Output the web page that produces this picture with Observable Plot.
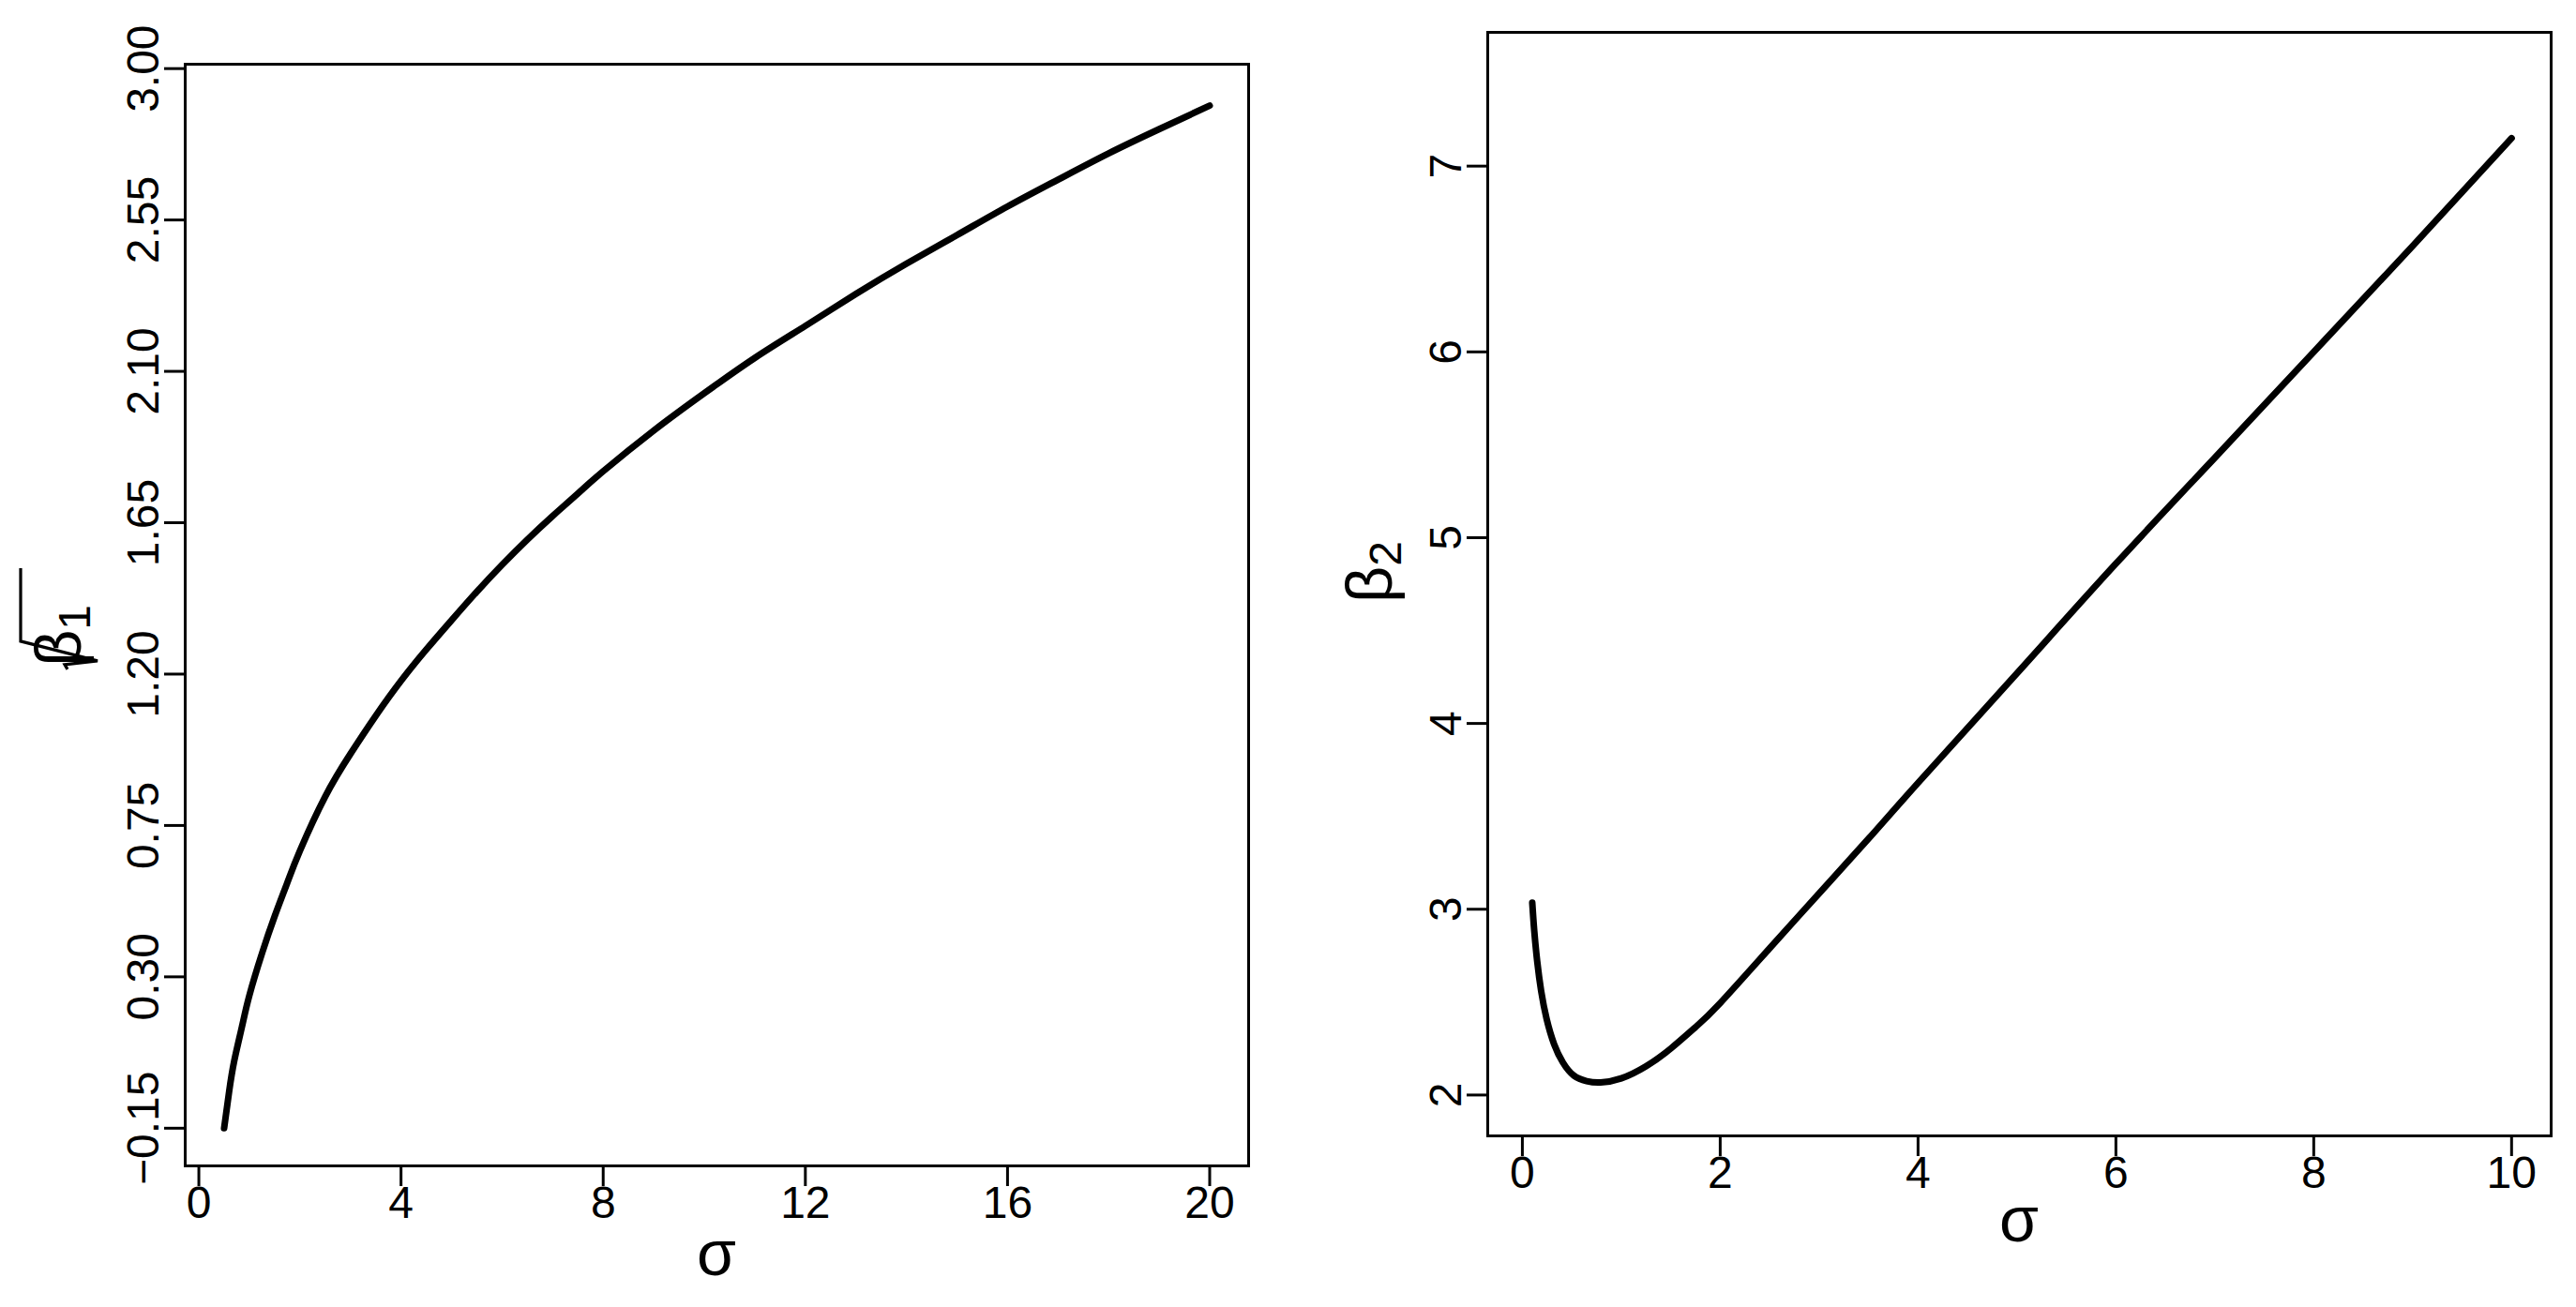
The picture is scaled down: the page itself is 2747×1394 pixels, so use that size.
<!DOCTYPE html>
<html>
<head>
<meta charset="utf-8">
<script src="https://cdn.jsdelivr.net/npm/d3@7"></script>
<script src="https://cdn.jsdelivr.net/npm/@observablehq/plot@0.6"></script>
<style>
  html, body { margin: 0; padding: 0; background: #fff; }
  #wrap { display: flex; flex-direction: row; width: 2747px; height: 1394px; background: #fff; }
  #wrap svg { display: block; }
</style>
</head>
<body>
<div id="wrap"></div>
<script>
// ---- Left panel: sqrt(beta1) vs sigma ----
const sigmaLeft = [0.5, 0.6, 0.7, 0.85, 1.0, 1.25, 1.5, 1.75, 2.0, 2.5, 3.0, 3.5, 4.0, 4.5, 5.0, 5.5, 6.0, 6.5, 7.0, 7.5, 8, 9, 10, 11, 12, 13, 14, 15, 16, 17, 18, 19, 20];
const sqrtBeta1 = [-0.15, -0.04, 0.05, 0.15, 0.245, 0.37, 0.48, 0.58, 0.675, 0.836, 0.963, 1.076, 1.18, 1.273, 1.36, 1.445, 1.525, 1.60, 1.67, 1.737, 1.803, 1.924, 2.035, 2.14, 2.235, 2.33, 2.42, 2.505, 2.59, 2.67, 2.748, 2.82, 2.89];
const xTicksLeft = [0, 4, 8, 12, 16, 20];
const yTicksLeft = [-0.15, 0.30, 0.75, 1.20, 1.65, 2.10, 2.55, 3.00];

// ---- Right panel: beta2 vs sigma ----
const sigmaRight = [0.1, 0.12, 0.15, 0.19, 0.245, 0.32, 0.41, 0.52, 0.65, 0.79, 1.0, 1.25, 1.5, 1.75, 2.0, 2.5, 3.0, 3.5, 4.0, 5, 6, 7, 8, 9, 10];
const beta2 = [3.035, 2.885, 2.72, 2.56, 2.41, 2.275, 2.175, 2.105, 2.075, 2.068, 2.09, 2.155, 2.25, 2.365, 2.495, 2.79, 3.085, 3.38, 3.68, 4.27, 4.86, 5.43, 6.00, 6.57, 7.15];
const xTicksRight = [0, 2, 4, 6, 8, 10];
const yTicksRight = [2, 3, 4, 5, 6, 7];

const FONT = "'Liberation Sans', Arial, Helvetica, sans-serif";
const left = sigmaLeft.map((s, i) => ({s, v: sqrtBeta1[i]}));
const right = sigmaRight.map((s, i) => ({s, v: beta2[i]}));

function panel({width, mL, mR, mT, mB, xDomain, yDomain, xTicks, yTicks, yFmt, data}) {
  return Plot.plot({
    width, height: 1394,
    marginLeft: mL, marginRight: mR, marginTop: mT, marginBottom: mB,
    x: {domain: xDomain},
    y: {domain: yDomain},
    style: {fontFamily: FONT, fontSize: "48px", background: "#fff", color: "#000", overflow: "visible"},
    marks: [
      Plot.axisX(xTicks, {tickSize: 22, tickPadding: -1, strokeWidth: 3, fontSize: 48, label: null, tickFormat: d => String(d)}),
      Plot.axisY(yTicks, {tickSize: 22, strokeWidth: 3, label: null, tickFormat: () => ""}),
      Plot.text(yTicks, {y: d => d, frameAnchor: "left", dx: -29, rotate: -90, lineAnchor: "bottom", textAnchor: "middle", text: yFmt, fontSize: 48, fill: "#000"}),
      Plot.line(data, {x: "s", y: "v", stroke: "#000", strokeWidth: 7, curve: "natural", strokeLinecap: "round", strokeLinejoin: "round"}),
      Plot.frame({stroke: "#000", strokeWidth: 3})
    ]
  });
}

const wrap = document.getElementById("wrap");

const p1 = panel({
  width: 1373, mL: 197, mR: 42, mT: 68, mB: 151,
  xDomain: [-0.27, 20.77], yDomain: [-0.262, 3.013],
  xTicks: xTicksLeft, yTicks: yTicksLeft,
  yFmt: d => d3.format(".2f")(d), data: left
});
const p2 = panel({
  width: 1374, mL: 213, mR: 27, mT: 34, mB: 183,
  xDomain: [-0.35, 10.4], yDomain: [1.78, 7.72],
  xTicks: xTicksRight, yTicks: yTicksRight,
  yFmt: d => String(d), data: right
});
wrap.appendChild(p1);
wrap.appendChild(p2);

// Axis titles
function xTitle(svg, cx, baseline) {
  d3.select(svg).append("text")
    .attr("x", cx).attr("y", baseline)
    .attr("text-anchor", "middle")
    .attr("font-family", FONT).attr("font-size", 68).attr("fill", "#000")
    .text("σ");
}
xTitle(p1, 764, 1360);
xTitle(p2, 2153 - 1373, 1324);

// Left y title: sqrt(beta_1) drawn as radical + overline over "β1"
{
  const g = d3.select(p1).append("g");
  const t = g.append("text")
    .attr("x", 0).attr("y", 0)
    .attr("font-family", FONT).attr("font-size", 68).attr("fill", "#000");
  t.append("tspan").text("β");
  t.append("tspan").attr("font-size", 48).attr("dy", "0.2em").text("1");
  const w = t.node().getComputedTextLength();
  g.append("path")
    .attr("d", `M-36,-14 L-31,-17 L-27,18 L-6,-64 L${w + 6},-64`)
    .attr("fill", "none").attr("stroke", "#000").attr("stroke-width", 3.2)
    .attr("stroke-linejoin", "miter");
  const mid = (-36 + w + 6) / 2;
  g.attr("transform", `translate(86,660) rotate(-90) translate(${-mid},0)`);
}
// Right y title: beta_2
{
  const t = d3.select(p2).append("text")
    .attr("transform", "translate(111,610) rotate(-90)")
    .attr("text-anchor", "middle")
    .attr("font-family", FONT).attr("font-size", 68).attr("fill", "#000");
  t.append("tspan").text("β");
  t.append("tspan").attr("font-size", 48).attr("dy", "0.2em").text("2");
}
</script>
</body>
</html>
